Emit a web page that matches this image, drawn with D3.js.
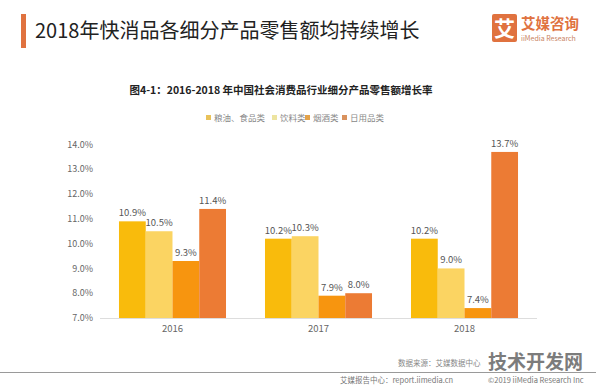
<!DOCTYPE html>
<html>
<head>
<meta charset="utf-8">
<script src="https://cdn.jsdelivr.net/npm/d3@7"></script>
<style>
body { margin: 0; background: #fff; }
svg { display: block; font-family: "Noto Sans CJK SC", "Open Sans", sans-serif; }
</style>
</head>
<body>
<svg width="596" height="386"></svg>
<script>
// data
var years = ["2016", "2017", "2018"];
var seriesNames = ["粮油、食品类", "饮料类", "烟酒类", "日用品类"];
var grainFood = [10.9, 10.2, 10.2];
var drinks = [10.5, 10.3, 9.0];
var tobaccoWine = [9.3, 7.9, 7.4];
var dailyUse = [11.4, 8.0, 13.7];
var yTicks = [7, 8, 9, 10, 11, 12, 13, 14];

var seriesValues = [grainFood, drinks, tobaccoWine, dailyUse];
var colors = ["#F9BB0C", "#FBD462", "#F7950F", "#EC7B34"];
var legendColors = ["#E9C25A", "#EDE4A0", "#E3A249", "#D9925E"];

var svg = d3.select("svg"),
	width = +svg.attr("width"),
	height = +svg.attr("height");

// header
svg.append("rect").attr("x", 21).attr("y", 14).attr("width", 5).attr("height", 34).attr("fill", "#E0723F");
svg.append("text").attr("x", 35).attr("y", 38)
	.attr("font-size", 20).attr("fill", "#222")
	.text("2018年快消品各细分产品零售额均持续增长");

// logo
svg.append("rect").attr("x", 492).attr("y", 14).attr("width", 25).attr("height", 28).attr("rx", 2).attr("fill", "#E0723F");
svg.append("text").attr("x", 504.5).attr("y", 36).attr("text-anchor", "middle")
	.attr("font-size", 21).attr("font-weight", "bold").attr("fill", "#fff").text("艾");
svg.append("text").attr("x", 521).attr("y", 29)
	.attr("font-size", 14.5).attr("font-weight", "bold").attr("fill", "#E0723F").text("艾媒咨询");
svg.append("text").attr("x", 521).attr("y", 41)
	.attr("font-size", 7).attr("fill", "#C9835F").text("iiMedia Research");

// chart title
svg.append("text").attr("x", 281).attr("y", 94).attr("text-anchor", "middle")
	.attr("font-size", 10.5).attr("font-weight", "bold").attr("fill", "#222")
	.text("图4-1：2016-2018 年中国社会消费品行业细分产品零售额增长率");

// legend
var legX = [206, 272, 305, 342];
var legend = svg.selectAll(".legend")
	.data(seriesNames)
	.enter().append("g")
	.attr("class", "legend")
	.attr("transform", function(d, i) { return "translate(" + legX[i] + ",118)"; });
legend.append("rect").attr("x", 0).attr("y", -3).attr("width", 5).attr("height", 5)
	.attr("fill", function(d, i) { return legendColors[i]; });
legend.append("text").attr("x", 8).attr("y", 0).attr("dy", "0.35em")
	.attr("font-size", 8.5).attr("fill", "#888").text(function(d) { return d; });

// scales
var x0 = d3.scaleBand().domain(years).range([100, 537]).paddingInner(0.267).paddingOuter(0.13);
var x1 = d3.scaleBand().domain(d3.range(seriesNames.length)).range([0, x0.bandwidth()]);
var y = d3.scaleLinear().domain([7, 14]).range([318, 144.5]);

// y axis labels
svg.selectAll(".ytick")
	.data(yTicks)
	.enter().append("text")
	.attr("class", "ytick")
	.attr("x", 93).attr("y", function(d) { return y(d); }).attr("dy", "0.35em")
	.attr("text-anchor", "end").attr("font-size", 9).attr("fill", "#666")
	.text(function(d) { return d.toFixed(1) + "%"; });

// bars
var groups = svg.selectAll(".year")
	.data(years)
	.enter().append("g")
	.attr("class", "year")
	.attr("transform", function(d) { return "translate(" + x0(d) + ",0)"; });

groups.selectAll("rect")
	.data(function(d, i) { return seriesValues.map(function(s, k) { return { k: k, v: s[i] }; }); })
	.enter().append("rect")
	.attr("x", function(d) { return x1(d.k); })
	.attr("y", function(d) { return y(d.v); })
	.attr("width", x1.bandwidth())
	.attr("height", function(d) { return y(7) - y(d.v); })
	.attr("fill", function(d) { return colors[d.k]; });

groups.selectAll(".val")
	.data(function(d, i) { return seriesValues.map(function(s, k) { return { k: k, v: s[i] }; }); })
	.enter().append("text")
	.attr("class", "val")
	.attr("x", function(d) { return x1(d.k) + x1.bandwidth() / 2; })
	.attr("y", function(d) { return y(d.v) - 5; })
	.attr("text-anchor", "middle").attr("font-size", 9.5).attr("fill", "#555")
	.text(function(d) { return d.v.toFixed(1) + "%"; });

// x axis
var xAxis = svg.append("g").attr("transform", "translate(0,318)")
	.call(d3.axisBottom(x0).tickSize(0).tickPadding(7));
xAxis.select(".domain").attr("stroke", "#ddd").attr("d", "M100,0.5H537");
xAxis.selectAll("text").attr("font-size", 9.5).attr("fill", "#666")
	.attr("font-family", "\"Noto Sans CJK SC\", \"Open Sans\", sans-serif");

// footer
svg.append("text").attr("x", 398).attr("y", 366)
	.attr("font-size", 7.5).attr("fill", "#888").text("数据来源：艾媒数据中心");
svg.append("text").attr("x", 488).attr("y", 369)
	.attr("font-size", 19).attr("font-weight", "bold").attr("fill", "#666").attr("opacity", 0.85)
	.text("技术开发网");
svg.append("line").attr("x1", 0).attr("x2", width).attr("y1", 372.5).attr("y2", 372.5)
	.attr("stroke", "#9a9a9a").attr("stroke-width", 1);
svg.append("text").attr("x", 340).attr("y", 382.5)
	.attr("font-size", 7.5).attr("fill", "#777").text("艾媒报告中心：report.iimedia.cn");
svg.append("text").attr("x", 488).attr("y", 382.5)
	.attr("font-size", 7.5).attr("fill", "#777").text("©2019  iiMedia Research Inc");
</script>
</body>
</html>
